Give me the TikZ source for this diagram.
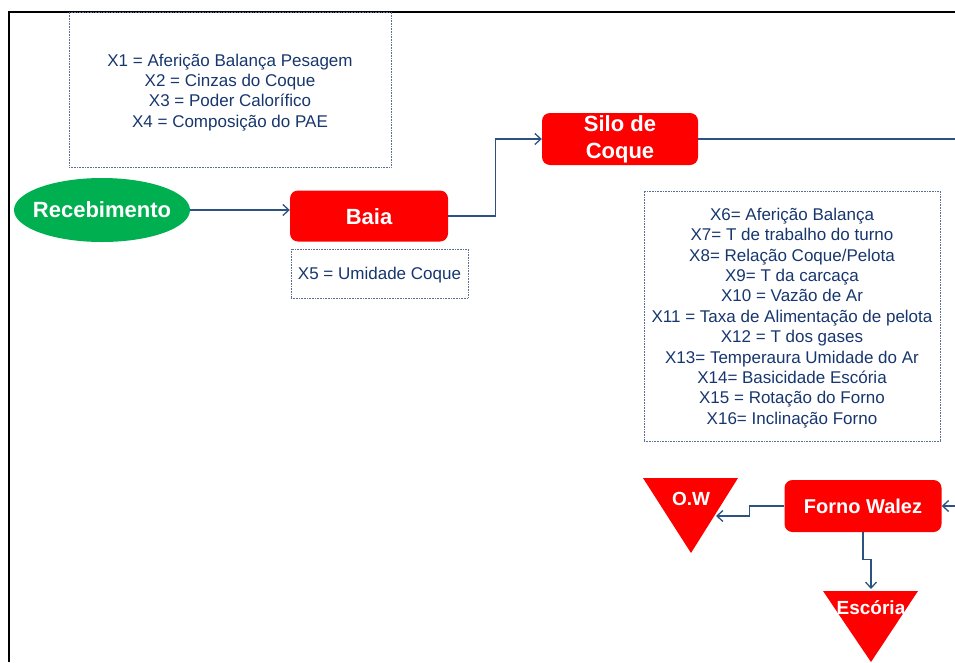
\documentclass[tikz,border=0pt]{standalone}
\usepackage{fontspec}
\setmainfont{Liberation Sans}
\usetikzlibrary{shapes.geometric,arrows.meta}

\definecolor{boxred}{RGB}{255,0,0}
\definecolor{startgreen}{RGB}{0,176,80}
\definecolor{textblue}{RGB}{23,54,110}
\definecolor{flowblue}{RGB}{44,82,130}
\definecolor{dotblue}{RGB}{90,110,150}

\begin{document}
\begin{tikzpicture}[x=1pt, y=-1pt,
    stage/.style={rectangle, rounded corners=8pt, fill=boxred, text=white, font=\bfseries\fontsize{22}{27}\selectfont, align=center},
    varbox/.style={rectangle, draw=dotblue, densely dotted, line width=0.6pt, text=textblue, font=\fontsize{17}{20.4}\selectfont, align=center},
    flow/.style={draw=flowblue, line width=1.3pt, -{Straight Barb[length=6pt,width=11pt]}},
    lbl/.style={text=white, font=\bfseries\fontsize{19}{22}\selectfont}]
    \useasboundingbox (0,0) rectangle (955,662);

    % Frame
    \draw[line width=1.6pt] (9,662) -- (9,12) -- (955,12);

    % Variables
    \node[varbox, minimum width=322pt, minimum height=155pt] (v14) at (230,89.5)
        {\rule{0pt}{18pt}X1 = Aferição Balança Pesagem\\X2 = Cinzas do Coque\\X3 = Poder Calorífico\\X4 = Composição do PAE};
    \node[varbox, minimum width=177pt, minimum height=49pt] (v5) at (379.5,273.5) {\rule{0pt}{15pt}X5 = Umidade Coque};
    \node[varbox, minimum width=296pt, minimum height=250pt] (v616) at (792,316)
        {\rule{0pt}{16pt}X6= Aferição Balança\\X7= T de trabalho do turno\\X8= Relação Coque/Pelota\\X9= T da carcaça\\X10 = Vazão de Ar\\X11 = Taxa de Alimentação de pelota\\X12 = T dos gases\\X13= Temperaura Umidade do Ar\\X14= Basicidade Escória\\X15 = Rotação do Forno\\X16= Inclinação Forno};

    % Stages
    \node[ellipse, fill=startgreen, text=white, font=\bfseries\fontsize{22}{27}\selectfont,
          minimum width=176pt, minimum height=64pt, inner sep=-8pt] (rec) at (102,210) {Recebimento};
    \node[stage, minimum width=158pt, minimum height=51pt] (baia) at (369,216) {\rule{0pt}{18pt}Baia};
    \node[stage, minimum width=156pt, minimum height=52pt, inner sep=0pt] (silo) at (620,139) {Silo de\\Coque};
    \node[stage, font=\bfseries\fontsize{20}{24}\selectfont, minimum width=157pt, minimum height=52pt] (forno) at (863,506) {Forno Walez};

    % Outputs
    \fill[boxred] (643,478) -- (738,478) -- (691,553) -- cycle;
    \node[lbl] (ow) at (691,499) {O.W};
    \coordinate (owin) at (716,516);
    \fill[boxred] (823,591) -- (918,591) -- (871,662) -- cycle;
    \node[lbl] (esc) at (871,608) {Escória};
    \coordinate (escin) at (871,589);

    % Connectors
    \coordinate (siloout) at (956,139);
    \coordinate (fornoin) at (956,506);
    \draw[flow] (rec.east) -- (rec.east -| baia.west);
    \draw[flow] (baia.east) -- ++(47,0) |- (silo.west);
    \draw[flow, -] (silo.east) -- (siloout);
    \draw[flow] (fornoin) -- (forno.east);
    \draw[flow] (forno.west) -- ++(-35,0) -- ++(0,10) -- (owin);
    \draw[flow] (forno.south) -- ++(0,27) -| (escin);
\end{tikzpicture}
\end{document}
